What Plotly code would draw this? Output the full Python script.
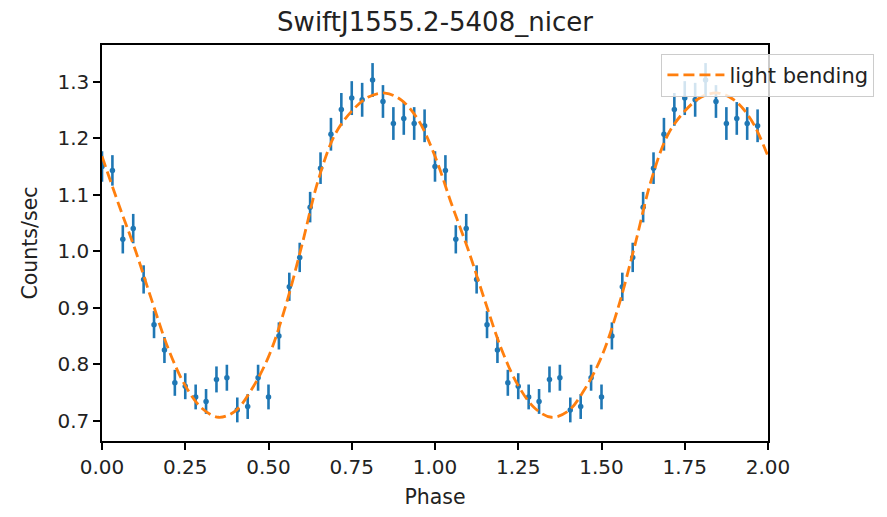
import plotly.graph_objects as go

# Folded light curve (two cycles shown)
phase = [0.0, 0.03125, 0.0625, 0.09375, 0.125, 0.15625, 0.1875, 0.21875,
         0.25, 0.28125, 0.3125, 0.34375, 0.375, 0.40625, 0.4375, 0.46875,
         0.5, 0.53125, 0.5625, 0.59375, 0.625, 0.65625, 0.6875, 0.71875,
         0.75, 0.78125, 0.8125, 0.84375, 0.875, 0.90625, 0.9375, 0.96875,
         1.0, 1.03125, 1.0625, 1.09375, 1.125, 1.15625, 1.1875, 1.21875,
         1.25, 1.28125, 1.3125, 1.34375, 1.375, 1.40625, 1.4375, 1.46875,
         1.5, 1.53125, 1.5625, 1.59375, 1.625, 1.65625, 1.6875, 1.71875,
         1.75, 1.78125, 1.8125, 1.84375, 1.875, 1.90625, 1.9375, 1.96875]

counts = [1.150, 1.143, 1.021, 1.040, 0.950, 0.870, 0.825, 0.767,
          0.761, 0.742, 0.734, 0.773, 0.776, 0.719, 0.725, 0.776,
          0.742, 0.850, 0.937, 0.989, 1.078, 1.147, 1.207, 1.251,
          1.271, 1.268, 1.303, 1.265, 1.226, 1.235, 1.226, 1.222,
          1.150, 1.143, 1.021, 1.040, 0.950, 0.870, 0.825, 0.767,
          0.761, 0.742, 0.734, 0.773, 0.776, 0.719, 0.725, 0.776,
          0.742, 0.850, 0.937, 0.989, 1.078, 1.147, 1.207, 1.251,
          1.271, 1.268, 1.303, 1.265, 1.226, 1.235, 1.226, 1.222]

errors = [0.027, 0.027, 0.025, 0.026, 0.025, 0.024, 0.023, 0.023,
          0.023, 0.022, 0.022, 0.023, 0.023, 0.022, 0.022, 0.023,
          0.022, 0.024, 0.025, 0.026, 0.027, 0.028, 0.029, 0.029,
          0.030, 0.030, 0.030, 0.029, 0.029, 0.029, 0.029, 0.029,
          0.027, 0.027, 0.025, 0.026, 0.025, 0.024, 0.023, 0.023,
          0.023, 0.022, 0.022, 0.023, 0.023, 0.022, 0.022, 0.023,
          0.022, 0.024, 0.025, 0.026, 0.027, 0.028, 0.029, 0.029,
          0.030, 0.030, 0.030, 0.029, 0.029, 0.029, 0.029, 0.029]

# Light bending model curve
model_phase = [0.00, 0.05, 0.10, 0.15, 0.20, 0.25, 0.30, 0.35, 0.40, 0.45,
               0.50, 0.55, 0.60, 0.65, 0.70, 0.75, 0.80, 0.85, 0.90, 0.95,
               1.00, 1.05, 1.10, 1.15, 1.20, 1.25, 1.30, 1.35, 1.40, 1.45,
               1.50, 1.55, 1.60, 1.65, 1.70, 1.75, 1.80, 1.85, 1.90, 1.95,
               2.00]
model_counts = [1.168, 1.083, 1.002, 0.912, 0.826, 0.762, 0.722, 0.706, 0.717, 0.756,
                0.813, 0.900, 1.010, 1.127, 1.207, 1.248, 1.273, 1.280, 1.267, 1.232,
                1.168, 1.083, 1.002, 0.912, 0.826, 0.762, 0.722, 0.706, 0.717, 0.756,
                0.813, 0.900, 1.010, 1.127, 1.207, 1.248, 1.273, 1.280, 1.267, 1.232,
                1.168]

x_ticks = [0.0, 0.25, 0.5, 0.75, 1.0, 1.25, 1.5, 1.75, 2.0]
x_tick_labels = ["0.00", "0.25", "0.50", "0.75", "1.00", "1.25", "1.50", "1.75", "2.00"]
y_ticks = [0.7, 0.8, 0.9, 1.0, 1.1, 1.2, 1.3]
y_tick_labels = ["0.7", "0.8", "0.9", "1.0", "1.1", "1.2", "1.3"]

BLUE = "#1f77b4"
ORANGE = "#ff7f0e"
FONT = "DejaVu Sans"
TXT = "#222222"

fig = go.Figure()
fig.add_trace(go.Scatter(
    x=phase, y=counts, mode="markers", showlegend=False,
    marker=dict(color=BLUE, size=5.5),
    error_y=dict(type="data", array=errors, visible=True,
                 color=BLUE, thickness=2.6, width=0),
))
fig.add_trace(go.Scatter(
    x=model_phase, y=model_counts, mode="lines", name="light bending",
    line=dict(color=ORANGE, width=2.8, dash="11px,5px", shape="spline", smoothing=1.0),
))

axis_common = dict(
    showline=True, linecolor="black", linewidth=1.5, mirror=True,
    ticks="outside", ticklen=7, tickwidth=1.5, tickcolor="black",
    showgrid=False, zeroline=False,
    tickfont=dict(family=FONT, size=20, color=TXT),
)

fig.update_layout(
    width=887, height=517,
    margin=dict(l=102, r=119, t=45, b=70),
    paper_bgcolor="white", plot_bgcolor="white",
    font=dict(family=FONT, color=TXT),
    title=dict(text="SwiftJ1555.2-5408_nicer", x=0.5, xref="paper", xanchor="center",
               y=1 - 22 / 517, yref="container", yanchor="middle",
               font=dict(family=FONT, size=26, color=TXT)),
    xaxis=dict(range=[0, 2], tickvals=x_ticks, ticktext=x_tick_labels,
               title=dict(text="Phase", standoff=12, font=dict(family=FONT, size=20.5, color=TXT)),
               **axis_common),
    yaxis=dict(range=[0.664, 1.365], tickvals=y_ticks, ticktext=y_tick_labels,
               title=dict(text="Counts/sec", standoff=14, font=dict(family=FONT, size=20.5, color=TXT)),
               **axis_common),
    legend=dict(x=0.84, y=0.978, xanchor="left", yanchor="top",
                itemwidth=57,
                bgcolor="rgba(255,255,255,0.8)", bordercolor="#cccccc", borderwidth=1,
                font=dict(family=FONT, size=21, color=TXT)),
)

fig.write_html("out.html")
